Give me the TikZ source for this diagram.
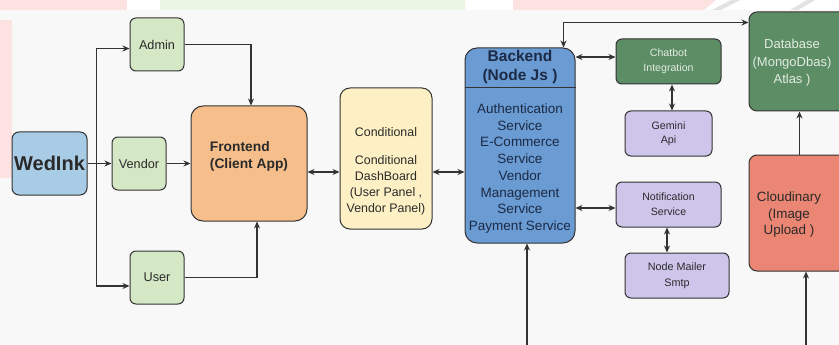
\documentclass[tikz,border=0pt]{standalone}
\usepackage{fontspec}
\setmainfont{Liberation Sans}
\usepackage{xcolor}
\usetikzlibrary{arrows.meta, calc}

\definecolor{wedblue}{HTML}{A9CCE6}
\definecolor{rolegreen}{HTML}{D5E8C5}
\definecolor{frontorange}{HTML}{F5BE8A}
\definecolor{condyellow}{HTML}{FCF0C4}
\definecolor{backblue}{HTML}{6A9BD3}
\definecolor{darkgreen}{HTML}{5D8D65}
\definecolor{lavender}{HTML}{CEC5EB}
\definecolor{cloudred}{HTML}{EA8673}
\definecolor{edgegray}{HTML}{333333}
\definecolor{bggray}{HTML}{F8F8F8}
\definecolor{wmpink}{HTML}{FDE2E2}
\definecolor{wmgreen}{HTML}{EAF6E3}
\definecolor{wmgray}{HTML}{E2E2E2}
\definecolor{lighttext}{HTML}{E2ECE2}
\definecolor{darktext}{HTML}{2A2A2A}
\definecolor{navytext}{HTML}{1C2A45}

\begin{document}
\begin{tikzpicture}[x=1pt, y=-1pt, >={Stealth[length=7pt,width=6pt]},
  box/.style={draw=edgegray, line width=1pt, rounded corners=6pt, inner sep=2pt, align=center, text=darktext},
  arr/.style={->, draw=edgegray, line width=1.1pt},
  darr/.style={<->, draw=edgegray, line width=1.1pt}]
  \useasboundingbox (0,0) rectangle (839,345);

  % Background and watermark bits
  \fill[white] (0,0) rectangle (839,345);
  \fill[bggray] (0,10) rectangle (839,345);
  \fill[wmpink] (0,0) rectangle (127,10);
  \fill[wmpink] (0,20) rectangle (12,178);
  \fill[wmgreen] (160,0) rectangle (465,10);
  \fill[wmpink] (513,0) -- (716,0) -- (704,10) -- (513,10) -- cycle;
  \fill[wmgray] (712,10) -- (721,10) -- (740,0) -- (731,0) -- cycle;
  \fill[wmgray] (790,10) -- (798,10) -- (815,0) -- (807,0) -- cycle;

  % Entry and roles
  \node[box, fill=wedblue, rounded corners=7pt, minimum width=75, minimum height=63,
        font=\fontsize{20}{24}\selectfont\bfseries] (wed) at (49.5,163.5) {WedInk};
  \node[box, fill=rolegreen, minimum width=54, minimum height=53,
        font=\fontsize{12.7}{15}\selectfont] (admin) at (157,44.5) {Admin};
  \node[box, fill=rolegreen, minimum width=54, minimum height=53,
        font=\fontsize{12.7}{15}\selectfont] (vendor) at (139,163.5) {Vendor};
  \node[box, fill=rolegreen, minimum width=54, minimum height=53,
        font=\fontsize{12.7}{15}\selectfont] (user) at (157,277.5) {User};

  % Frontend
  \node[box, fill=frontorange, rounded corners=12pt, minimum width=116, minimum height=115] (front) at (249,163.5) {};
  \node[align=left, inner sep=0pt, text=darktext, font=\fontsize{13.8}{17}\selectfont\bfseries] (fronttxt) at (249,156.5) {Frontend\\(Client App)};

  % Conditional dashboard
  \node[box, fill=condyellow, rounded corners=10pt, minimum width=92, minimum height=141] (cond) at (386,158.5) {};
  \node[align=center, inner sep=0pt, text=darktext, font=\fontsize{12.4}{16}\selectfont] (condtxt) at (386,171.5)
    {Conditional\\[12pt]Conditional\\DashBoard\\(User Panel ,\\Vendor Panel)};

  % Backend with header
  \node[box, fill=backblue, rounded corners=12pt, minimum width=110, minimum height=195] (back) at (520,145.5) {};
  \draw[edgegray, line width=1pt] ($(back.north west)+(0,40)$) -- ($(back.north east)+(0,40)$);
  \node[align=center, inner sep=0pt, text=navytext, font=\fontsize{15.5}{19}\selectfont\bfseries] (backhead) at (520,66.5) {Backend\\(Node Js )};
  \node[align=center, inner sep=0pt, text=navytext, font=\fontsize{13.5}{16.7}\selectfont] (backbody) at (520,168.5)
    {Authentication\\Service\\E-Commerce\\Service\\Vendor\\Management\\Service\\Payment Service};

  % Services
  \node[box, fill=darkgreen, text=lighttext, minimum width=105, minimum height=45,
        font=\fontsize{10.6}{15}\selectfont] (chat) at (668.5,61.5) {Chatbot\\Integration};
  \node[box, fill=lavender, minimum width=87, minimum height=45,
        font=\fontsize{10.7}{14}\selectfont] (gem) at (668.5,133.5) {Gemini\\Api};
  \node[box, fill=lavender, minimum width=105, minimum height=45,
        font=\fontsize{10.6}{15}\selectfont] (notif) at (668.5,204.5) {Notification\\Service};
  \node[box, fill=lavender, minimum width=104, minimum height=45,
        font=\fontsize{10.8}{16}\selectfont] (mail) at (677,275.5) {Node Mailer\\Smtp};

  % Storage
  \node[box, fill=darkgreen, rounded corners=8pt, minimum width=101, minimum height=99] (db) at (799.5,61.5) {};
  \node[align=center, inner sep=0pt, text=lighttext, font=\fontsize{13}{17.5}\selectfont] (dbtxt) at (792,63)
    {Database\\(MongoDbas)\\Atlas )};
  \node[box, fill=cloudred, rounded corners=8pt, minimum width=101, minimum height=116] (cloud) at (799.5,213) {};
  \node[align=center, inner sep=0pt, text=darktext, font=\fontsize{13.4}{16.5}\selectfont] (cloudtxt) at (789,215)
    {Cloudinary\\(Image\\Upload )};

  % Free ends at the bottom
  \coordinate (backin) at (527,345);
  \coordinate (cloudin) at (806,345);

  % Connectors
  \draw[arr] (wed) -- (vendor);
  \draw[arr] ($(wed.east)+(9,0)$) |- ([yshift=-4]admin.west);
  \draw[arr] ($(wed.east)+(9,0)$) |- ([yshift=-8.5]user.west);
  \draw[arr] (admin) -| ([xshift=2]front.north);
  \draw[arr] (vendor) -- (front);
  \draw[arr] (user) -| ([xshift=8]front.south);
  \draw[darr] ([yshift=-8.5]front.east) -- ([yshift=-8.5]front.east -| cond.west);
  \draw[darr] ([yshift=-13.5]cond.east) -- ([yshift=-13.5]cond.east -| back.west);
  \draw[darr] ([yshift=4.5]chat.west) -- ([yshift=4.5]chat.west -| back.east);
  \draw[darr] ([yshift=-3.5]notif.west) -- ([yshift=-3.5]notif.west -| back.east);
  \draw[darr] ([xshift=3.5]chat.south) -- ([xshift=3.5]chat.south |- gem.north);
  \draw[darr] ([xshift=-1.5]notif.south) -- ([xshift=-1.5]notif.south |- mail.north);
  \draw[darr] ([xshift=-12]back.north east) |- ([yshift=-11]db.north west);
  \draw[arr] (cloud) -- (db);
  \draw[arr] (backin) -- (backin |- back.south);
  \draw[arr] (cloudin) -- (cloudin |- cloud.south);
\end{tikzpicture}
\end{document}
